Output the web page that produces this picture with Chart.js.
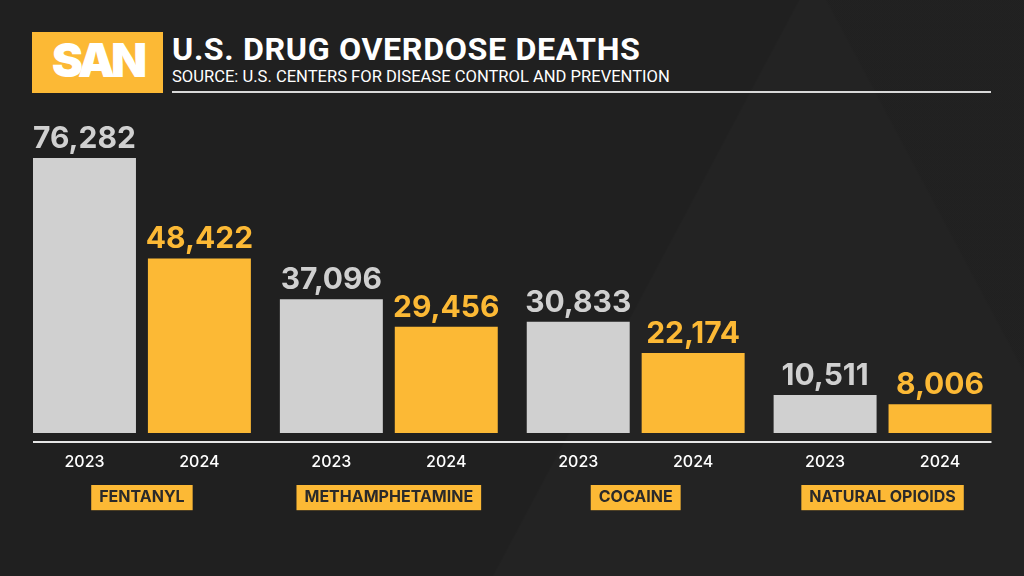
<!DOCTYPE html>
<html>
<head>
<meta charset="utf-8">
<script src="https://cdn.jsdelivr.net/npm/chart.js@4/dist/chart.umd.min.js"></script>
<style>
  html, body { margin: 0; padding: 0; }
  body {
    width: 1024px; height: 576px; overflow: hidden; position: relative;
    background-color: #202020;
    background-image:
      linear-gradient(118deg, rgba(255,255,255,0) 0%, rgba(255,255,255,0) 60%, rgba(255,255,255,0.015) 60.2%, rgba(255,255,255,0.015) 100%),
      linear-gradient(62deg, rgba(0,0,0,0) 0%, rgba(0,0,0,0) 85%, rgba(0,0,0,0.08) 85.2%, rgba(0,0,0,0.08) 100%);
    font-family: Inter, "Noto Sans", sans-serif;
  }
  #logo {
    position: absolute; left: 32px; top: 32px; width: 131px; height: 61px;
    background: #fcb935; color: #fff; font-weight: 900; font-size: 47px;
    letter-spacing: -4px; text-align: center; line-height: 56px;
  }
  #title {
    position: absolute; left: 172px; top: 33px; color: #fff; font-weight: 700;
    font-size: 31px; line-height: 34px; letter-spacing: 0.6px;
    font-family: Roboto, Inter, sans-serif; white-space: nowrap;
    transform: scaleX(1.04); transform-origin: left top;
  }
  #subtitle {
    position: absolute; left: 172px; top: 67px; color: #fff; font-size: 16px; line-height: 19px;
    font-family: Roboto, Inter, sans-serif; white-space: nowrap;
    transform: scaleX(1.035); transform-origin: left top;
  }
  #rule {
    position: absolute; left: 172px; top: 91px; width: 819px; height: 2px; background: #d8d8d8;
  }
  #wrap { position: absolute; left: 0; top: 0; width: 1024px; height: 576px; }
</style>
</head>
<body>
<div id="logo">SAN</div>
<div id="title">U.S. DRUG OVERDOSE DEATHS</div>
<div id="subtitle">SOURCE: U.S. CENTERS FOR DISEASE CONTROL AND PREVENTION</div>
<div id="rule"></div>
<div id="wrap"><canvas id="overdoseChart" width="1024" height="576"></canvas></div>
<script>
const drugs = ['FENTANYL', 'METHAMPHETAMINE', 'COCAINE', 'NATURAL OPIOIDS'];
const years = ['2023', '2024'];
const deaths2023 = [76282, 37096, 30833, 10511];
const deaths2024 = [48422, 29456, 22174, 8006];

const grey = '#d0d0d0';
const yellow = '#fcb935';

// labels above bars, year under each bar, and the base line
const barLabels = {
    id: 'barLabels',
    afterDatasetsDraw(chart) {
        let ctx = chart.ctx;
        let first = null, last = null;
        ctx.save();
        chart.data.datasets.forEach((ds, di) => {
            let meta = chart.getDatasetMeta(di);
            meta.data.forEach((bar, i) => {
                ctx.textAlign = 'center';
                ctx.textBaseline = 'alphabetic';
                ctx.font = 'bold 30px Inter, sans-serif';
                ctx.fillStyle = di === 0 ? grey : yellow;
                ctx.fillText(ds.data[i].toLocaleString('en-US'), bar.x, bar.y - 10);

                ctx.font = '500 16px Inter, sans-serif';
                ctx.fillStyle = '#ffffff';
                ctx.textBaseline = 'middle';
                ctx.fillText(years[di], bar.x, 462);

                let left = bar.x - bar.width / 2, right = bar.x + bar.width / 2;
                if (first === null || left < first) first = left;
                if (last === null || right > last) last = right;
            });
        });
        let base = chart.scales.y.getPixelForValue(0) + 9;
        ctx.strokeStyle = '#e6e6e6';
        ctx.lineWidth = 2;
        ctx.beginPath();
        ctx.moveTo(first, base);
        ctx.lineTo(last, base);
        ctx.stroke();
        ctx.restore();
    }
};

let ctx = document.getElementById('overdoseChart').getContext('2d');
let chart = new Chart(ctx, {
    type: 'bar',
    data: {
        labels: drugs,
        datasets: [
            { label: years[0], data: deaths2023, backgroundColor: grey },
            { label: years[1], data: deaths2024, backgroundColor: yellow }
        ]
    },
    options: {
        responsive: false,
        animation: false,
        devicePixelRatio: 1,
        categoryPercentage: 0.931,
        barPercentage: 0.896,
        layout: { padding: { left: 18.5, right: 18, top: 72.5, bottom: 63 } },
        plugins: {
            legend: { display: false },
            tooltip: { enabled: false }
        },
        scales: {
            y: { display: false, min: 0, max: 100000 },
            x: {
                grid: { display: false, drawTicks: false },
                border: { display: false },
                afterFit: s => { s.height = 80; },
                ticks: {
                    padding: 55,
                    color: '#2a2a2a',
                    font: { family: 'Inter, sans-serif', size: 16, weight: 'bold' },
                    showLabelBackdrop: true,
                    backdropColor: yellow,
                    backdropPadding: { top: 3, bottom: 3, left: 8, right: 8 },
                    maxRotation: 0
                }
            }
        }
    },
    plugins: [barLabels]
});
</script>
</body>
</html>
